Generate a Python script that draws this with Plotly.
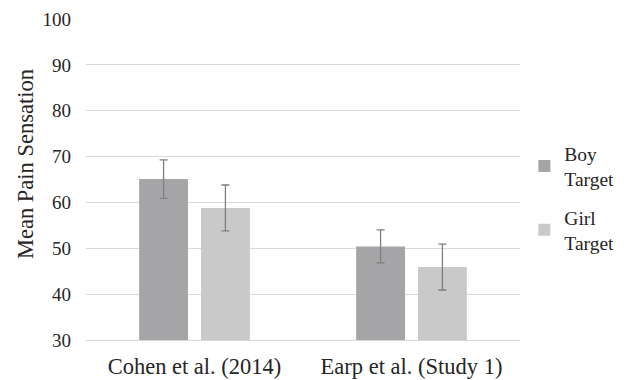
import plotly.graph_objects as go

categories = ["Cohen et al. (2014)", "Earp et al. (Study 1)"]
boy_values = [65.1, 50.4]
boy_err = [4.2, 3.6]
girl_values = [58.8, 45.9]
girl_err = [5.0, 5.0]
tick_vals = [30, 40, 50, 60, 70, 80, 90, 100]

font_family = "Liberation Serif, Times New Roman, serif"

fig = go.Figure()
fig.add_trace(go.Bar(
    name="Boy<br>Target", x=categories, y=boy_values, legendgroup="boy",
    marker=dict(color="#a5a5a7", line=dict(width=0)),
    error_y=dict(type="data", array=boy_err, color="#7f7f7f", thickness=1.3, width=4),
))
fig.add_trace(go.Bar(
    name="Girl<br>Target", x=categories, y=girl_values, legendgroup="girl",
    marker=dict(color="#c9c9ca", line=dict(width=0)),
    error_y=dict(type="data", array=girl_err, color="#7f7f7f", thickness=1.3, width=4),
))

fig.update_layout(
    width=632, height=380,
    margin=dict(l=86, r=112, t=19, b=40, autoexpand=False),
    paper_bgcolor="white", plot_bgcolor="white",
    barmode="group", bargap=0.43, bargroupgap=0.21,
    font=dict(family=font_family, size=19, color="#262626"),
    legend=dict(x=1.01, xanchor="left", y=0.442, yanchor="middle",
                font=dict(size=19.5, family=font_family, color="#262626"),
                tracegroupgap=10, itemwidth=30),
    xaxis=dict(showgrid=False, showline=True, linecolor="#d9d9d9", linewidth=1,
               tickfont=dict(size=22.5, family=font_family), ticks="",
               ticklabelstandoff=6, automargin=False),
    yaxis=dict(range=[30, 100], tickvals=tick_vals, showgrid=True,
               gridcolor="#d9d9d9", gridwidth=1, zeroline=False, automargin=False,
               tickfont=dict(size=19, family=font_family), ticks="", ticklabelstandoff=14),
    annotations=[dict(text="Mean Pain Sensation", textangle=-90,
                      xref="paper", yref="paper", x=-0.1406, y=0.548,
                      xanchor="center", yanchor="middle", showarrow=False,
                      font=dict(size=22.5, family=font_family, color="#262626"))],
)

fig.write_html("out.html", config={"displayModeBar": False},
               post_script="document.body.style.margin='0';")
